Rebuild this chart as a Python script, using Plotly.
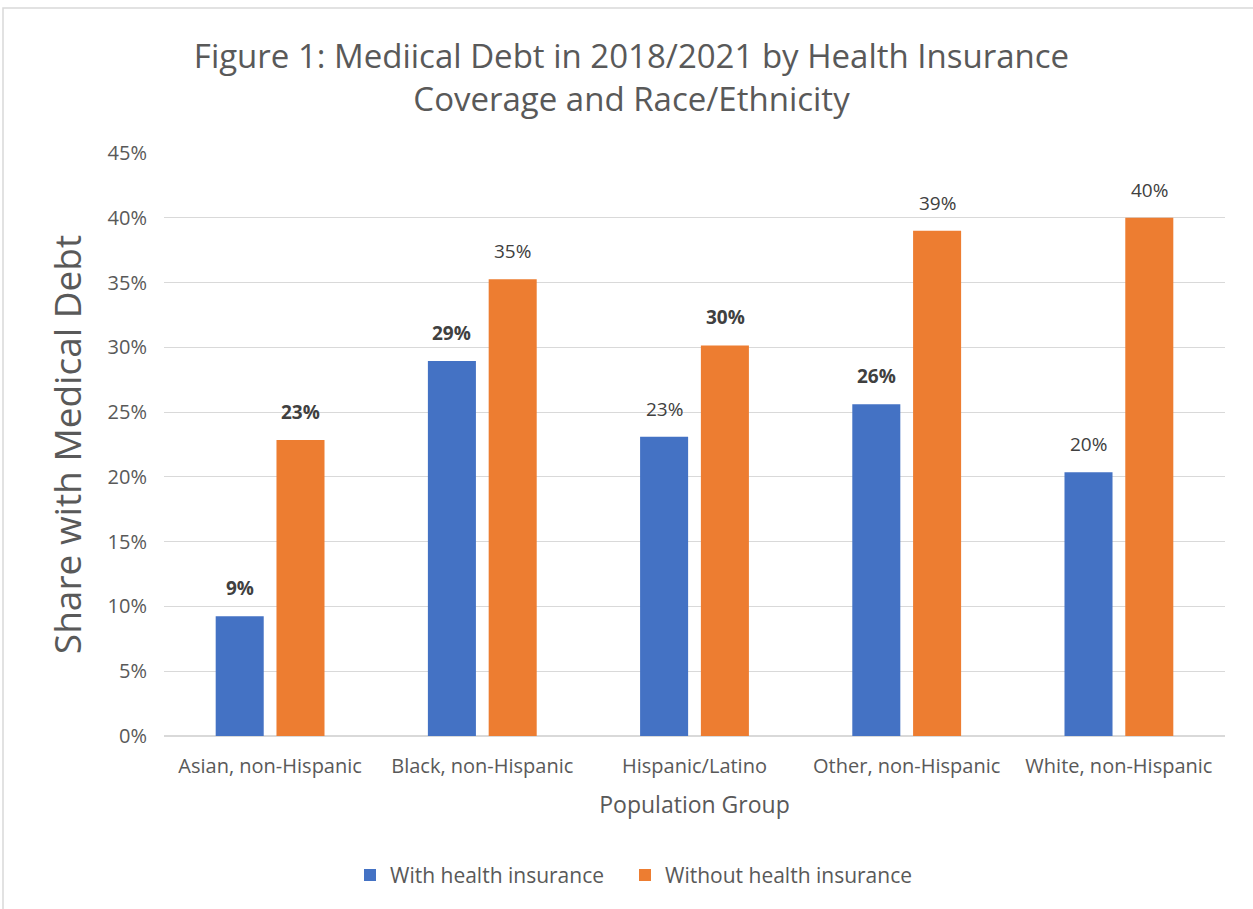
import plotly.graph_objects as go

categories = ["Asian, non-Hispanic", "Black, non-Hispanic", "Hispanic/Latino",
              "Other, non-Hispanic", "White, non-Hispanic"]
with_ins = [9.25, 28.95, 23.1, 25.6, 20.35]
without_ins = [22.85, 35.25, 30.15, 39.0, 40.0]
with_bold = [True, True, False, True, False]
without_bold = [True, False, True, False, False]
series_names = ["With health insurance", "Without health insurance"]
colors = ["#4472C4", "#ED7D31"]
FONT = "Open Sans"

def fmt(v, b):
    s = f"{round(v):.0f}%"
    return f"<b>{s}</b>" if b else s

fig = go.Figure()
for name, vals, c, lg in [(series_names[0], with_ins, colors[0], "legend"),
                          (series_names[1], without_ins, colors[1], "legend2")]:
    fig.add_trace(go.Bar(x=categories, y=vals, name=name, marker_color=c,
                         marker_line_width=0, legend=lg, showlegend=True))

# data labels placed at each bar's value, shifted to the bar's position in the group
for vals, bold, xs in [(with_ins, with_bold, -30.5), (without_ins, without_bold, 30.5)]:
    for cat, v, b in zip(categories, vals, bold):
        fig.add_annotation(x=cat, y=v, xref="x", yref="y", text=fmt(v, b),
                           showarrow=False, xshift=xs, yshift=13, yanchor="bottom",
                           font=dict(family=FONT, size=19, color="#404040"))

legend_style = dict(orientation="h", xanchor="left", xref="container",
                    y=0.037, yanchor="middle", yref="container",
                    font=dict(family=FONT, size=21, color="#595959"))

fig.update_layout(
    width=1253, height=909,
    margin=dict(l=164, r=28, t=153, b=173),
    paper_bgcolor="white", plot_bgcolor="white",
    barmode="group", bargap=0.427, bargroupgap=0.21,
    showlegend=True,
    title=dict(text="Figure 1: Mediical Debt in 2018/2021 by Health Insurance<br>Coverage and Race/Ethnicity",
               x=0.504, xref="container", xanchor="center",
               y=0.925, yref="container", yanchor="middle",
               font=dict(family=FONT, size=33, color="#595959")),
    font=dict(family=FONT, color="#595959"),
    legend=dict(x=(363 - 13) / 1253, **legend_style),
    legend2=dict(x=(638 - 13) / 1253, **legend_style),
)
fig.update_yaxes(range=[0, 45], dtick=5, ticksuffix="%", showgrid=True,
                 gridcolor="#D9D9D9", gridwidth=1, zeroline=True, zerolinecolor="#D9D9D9",
                 tickfont=dict(family=FONT, size=20, color="#595959"),
                 ticklabelstandoff=16,
                 title=dict(text="Share with Medical Debt",
                            font=dict(family=FONT, size=37, color="#595959"), standoff=14),
                 showline=False, ticks="")
fig.update_xaxes(tickfont=dict(family=FONT, size=20, color="#595959"),
                 ticklabelstandoff=12,
                 title=dict(text="Population Group",
                            font=dict(family=FONT, size=23, color="#595959"), standoff=18),
                 showline=True, linecolor="#D9D9D9", ticks="")

# light border of the chart area
fig.add_shape(type="rect", xref="paper", yref="paper",
              x0=(3 - 164) / 1061, x1=(1320 - 164) / 1061,
              y0=(736 - 960) / 583, y1=(736 - 8) / 583,
              line=dict(color="#D9D9D9", width=1.5), fillcolor="rgba(0,0,0,0)", layer="below")

fig.write_html("out.html")
